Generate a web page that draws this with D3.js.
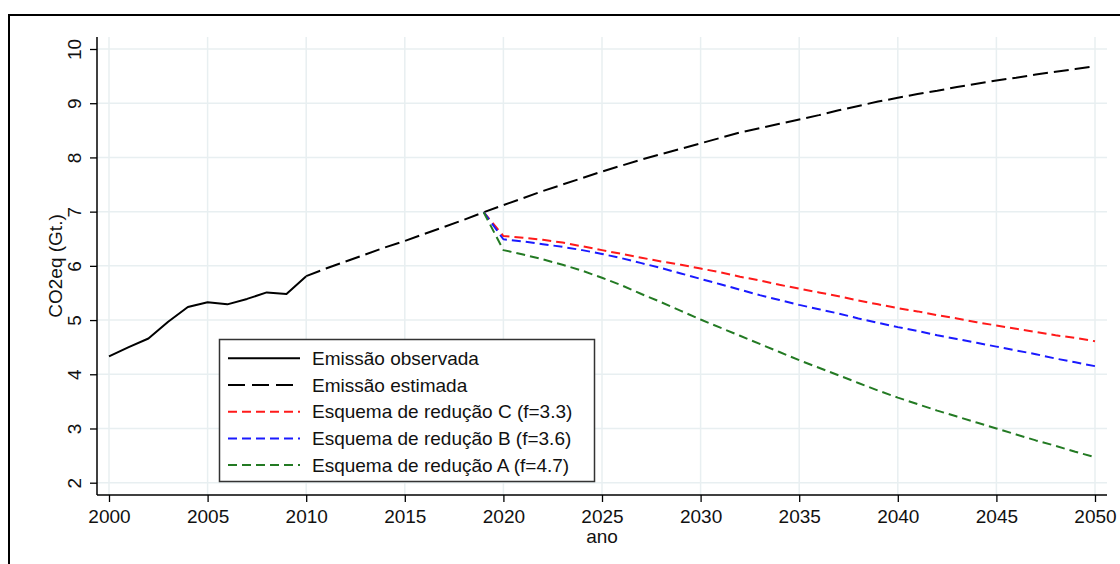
<!DOCTYPE html>
<html>
<head>
<meta charset="utf-8">
<script src="https://cdn.jsdelivr.net/npm/d3@7"></script>
<style>
  body { margin: 0; background: #fff; }
  svg { display: block; font-family: "Liberation Sans", Arial, sans-serif; }
</style>
</head>
<body>
<svg id="chart" width="1120" height="564"></svg>
<script>
// DATA
const yearsObs = [2000, 2001, 2002, 2003, 2004, 2005, 2006, 2007, 2008, 2009, 2010]
const emissaoObservada = [4.33, 4.50, 4.66, 4.97, 5.24, 5.33, 5.29, 5.39, 5.51, 5.48, 5.81]

const yearsEst = d3.range(2010, 2051)
const emissaoEstimada = [5.81, 5.95, 6.08, 6.21, 6.34, 6.46, 6.59, 6.72, 6.85, 6.99,
  7.12, 7.25, 7.38, 7.50, 7.62, 7.74, 7.85, 7.96, 8.06, 8.16,
  8.26, 8.36, 8.46, 8.54, 8.62, 8.70, 8.78, 8.87, 8.95, 9.03,
  9.10, 9.17, 9.23, 9.30, 9.36, 9.42, 9.47, 9.53, 9.58, 9.63, 9.68]

const yearsRed = d3.range(2019, 2051)
const esquemaC = [6.99, 6.55, 6.52, 6.48, 6.43, 6.36, 6.29, 6.22, 6.15, 6.08, 6.02,
  5.95, 5.88, 5.80, 5.73, 5.65, 5.58, 5.51, 5.44, 5.36, 5.29,
  5.22, 5.16, 5.09, 5.03, 4.96, 4.90, 4.84, 4.78, 4.72, 4.67, 4.61]
const esquemaB = [6.99, 6.49, 6.45, 6.40, 6.35, 6.29, 6.22, 6.14, 6.05, 5.96, 5.86,
  5.76, 5.66, 5.56, 5.46, 5.37, 5.28, 5.20, 5.12, 5.03, 4.95,
  4.87, 4.80, 4.72, 4.65, 4.58, 4.51, 4.44, 4.37, 4.29, 4.22, 4.15]
const esquemaA = [6.99, 6.29, 6.21, 6.12, 6.02, 5.91, 5.78, 5.64, 5.48, 5.33, 5.17,
  5.01, 4.86, 4.71, 4.56, 4.41, 4.26, 4.12, 3.98, 3.84, 3.70,
  3.57, 3.45, 3.33, 3.22, 3.11, 3.00, 2.89, 2.78, 2.68, 2.57, 2.47]

const xTicks = [2000, 2005, 2010, 2015, 2020, 2025, 2030, 2035, 2040, 2045, 2050]
const yTicks = [2, 3, 4, 5, 6, 7, 8, 9, 10]

const legendLabels = ["Emissão observada", "Emissão estimada",
  "Esquema de redução C (f=3.3)", "Esquema de redução B (f=3.6)", "Esquema de redução A (f=4.7)"]

// SETUP
let svg = d3.select('#chart')
let plot = {left: 97, right: 1107, top: 37, bottom: 495}

// outer frame
svg.append('rect')
  .attr('x', 9).attr('y', 15)
  .attr('width', 1200).attr('height', 700)
  .attr('fill', 'none').attr('stroke', '#000').attr('stroke-width', 2)

let x = d3.scaleLinear().domain([2000, 2050]).range([109, 1095])
let y = d3.scaleLinear().domain([2, 10]).range([482.7, 49])

// GRID
svg.append('g')
  .selectAll('line')
  .data(xTicks)
  .join('line')
    .attr('x1', d => x(d)).attr('x2', d => x(d))
    .attr('y1', plot.top).attr('y2', plot.bottom)
    .attr('stroke', '#e8eff1').attr('stroke-width', 1.5)
svg.append('g')
  .selectAll('line')
  .data(yTicks)
  .join('line')
    .attr('x1', plot.left).attr('x2', plot.right)
    .attr('y1', d => y(d)).attr('y2', d => y(d))
    .attr('stroke', '#e8eff1').attr('stroke-width', 1.5)

// AXES
let xAxis = svg.append('g')
  .attr('transform', `translate(0, ${plot.bottom})`)
  .call(d3.axisBottom(x).tickValues(xTicks).tickFormat(d3.format('d')).tickSize(7).tickSizeOuter(0).tickPadding(8))
xAxis.select('.domain').remove()
xAxis.selectAll('line').attr('stroke', '#000').attr('stroke-width', 1.3)
xAxis.selectAll('text').attr('font-size', 19).attr('fill', '#111').attr('font-family', '"Liberation Sans", Arial, sans-serif')

let yAxis = svg.append('g')
  .attr('transform', `translate(${plot.left}, 0)`)
  .call(d3.axisLeft(y).tickValues(yTicks).tickSize(7).tickSizeOuter(0))
yAxis.select('.domain').remove()
yAxis.selectAll('line').attr('stroke', '#000').attr('stroke-width', 1.3)
yAxis.selectAll('text')
  .attr('font-size', 19).attr('fill', '#111')
  .attr('font-family', '"Liberation Sans", Arial, sans-serif')
  .attr('x', null).attr('dy', null)
  .attr('text-anchor', 'middle')
  .attr('transform', 'translate(-16.5, 0) rotate(-90)')

// axis lines
svg.append('line')
  .attr('x1', plot.left).attr('x2', plot.right)
  .attr('y1', plot.bottom).attr('y2', plot.bottom)
  .attr('stroke', '#000').attr('stroke-width', 1.5)
svg.append('line')
  .attr('x1', plot.left).attr('x2', plot.left)
  .attr('y1', plot.top).attr('y2', plot.bottom)
  .attr('stroke', '#000').attr('stroke-width', 1.5)

// AXIS TITLES
svg.append('text')
  .attr('x', (plot.left + plot.right) / 2).attr('y', 543)
  .attr('text-anchor', 'middle')
  .attr('font-size', 19).attr('fill', '#111')
  .text('ano')
svg.append('text')
  .attr('transform', `translate(61.5, ${(plot.top + plot.bottom) / 2}) rotate(-90)`)
  .attr('text-anchor', 'middle')
  .attr('font-size', 19).attr('fill', '#111')
  .text('CO2eq (Gt.)')

// LINES
let line = d3.line().x(d => x(d[0])).y(d => y(d[1]))

let series = [
  {years: yearsObs, values: emissaoObservada, color: '#000', dash: null},
  {years: yearsEst, values: emissaoEstimada, color: '#000', dash: '15,6'},
  {years: yearsRed, values: esquemaC, color: '#ff1a1a', dash: '9,5'},
  {years: yearsRed, values: esquemaB, color: '#1a1aff', dash: '9,5'},
  {years: yearsRed, values: esquemaA, color: '#237a23', dash: '9,5'}
]

svg.append('g')
  .selectAll('path')
  .data(series)
  .join('path')
    .attr('d', s => line(s.years.map((yr, i) => [yr, s.values[i]])))
    .attr('fill', 'none')
    .attr('stroke', s => s.color)
    .attr('stroke-width', 2)
    .attr('stroke-dasharray', s => s.dash)
    .attr('stroke-linejoin', 'round')

// LEGEND
let legend = svg.append('g')
legend.append('rect')
  .attr('x', 219.5).attr('y', 339.5)
  .attr('width', 375).attr('height', 142)
  .attr('fill', '#fff').attr('stroke', '#333').attr('stroke-width', 1.5)

let rows = legend.selectAll('g.row')
  .data(series)
  .join('g')
    .attr('class', 'row')
    .attr('transform', (s, i) => `translate(0, ${358.3 + i * 26.7})`)
rows.append('line')
  .attr('x1', 228).attr('x2', 300)
  .attr('y1', 0).attr('y2', 0)
  .attr('stroke', s => s.color)
  .attr('stroke-width', 2)
  .attr('stroke-dasharray', (s, i) => i == 1 ? '17,7' : s.dash)
rows.append('text')
  .attr('x', 312).attr('y', 6.5)
  .attr('font-size', 19).attr('fill', '#111')
  .text((s, i) => legendLabels[i])
</script>
</body>
</html>
